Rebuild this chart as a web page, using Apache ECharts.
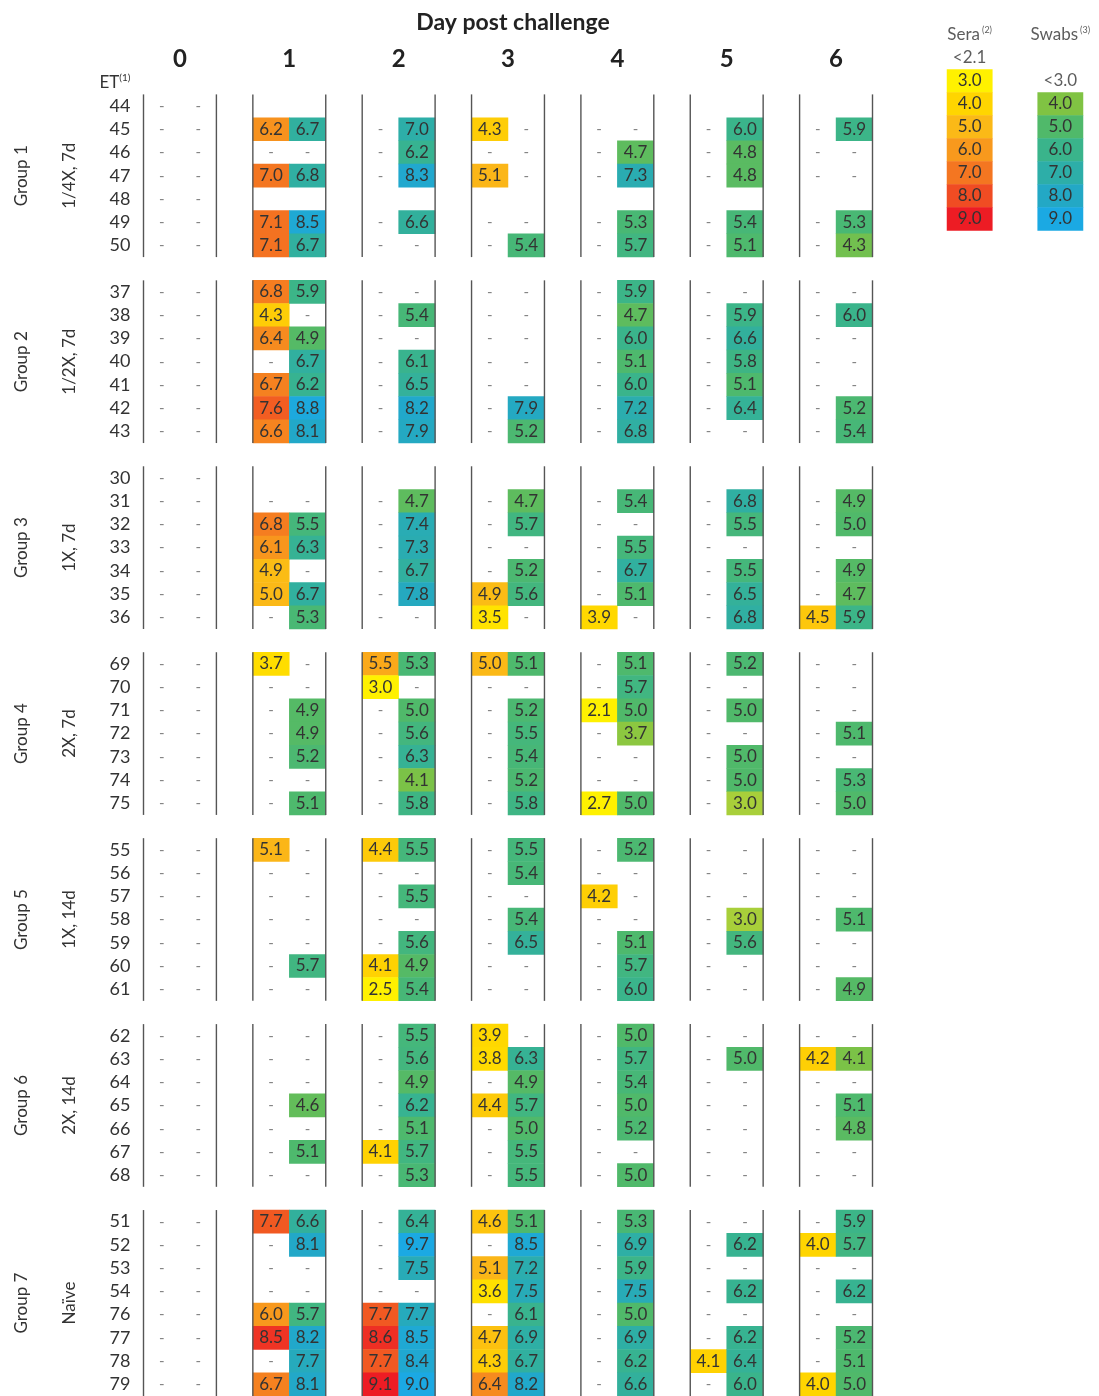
<!DOCTYPE html>
<html><head><meta charset="utf-8">
<script src="https://cdn.jsdelivr.net/npm/echarts@6/dist/echarts.min.js"></script>
<style>html,body{margin:0;padding:0;background:#fff}#c{width:1099px;height:1396px}</style>
</head><body><div id="c"></div>
<script>
// ---------- DATA ----------
const days = ['0', '1', '2', '3', '4', '5', '6'];
const groupNames = ['Group 1', 'Group 2', 'Group 3', 'Group 4', 'Group 5', 'Group 6', 'Group 7'];
const groupDoses = ['1/4X, 7d', '1/2X, 7d', '1X, 7d', '2X, 7d', '1X, 14d', '2X, 14d', 'Naïve'];

const group1Ids = ['44', '45', '46', '47', '48', '49', '50'];
const group1Sera = [
  ['-', '', '', '', '', '', ''],
  ['-', 6.2, '-', 4.3, '-', '-', '-'],
  ['-', '-', '-', '-', '-', '-', '-'],
  ['-', 7.0, '-', 5.1, '-', '-', '-'],
  ['-', '', '', '', '', '', ''],
  ['-', 7.1, '-', '-', '-', '-', '-'],
  ['-', 7.1, '-', '-', '-', '-', '-']
];
const group1Swab = [
  ['-', '', '', '', '', '', ''],
  ['-', 6.7, 7.0, '-', '-', 6.0, 5.9],
  ['-', '-', 6.2, '-', 4.7, 4.8, '-'],
  ['-', 6.8, 8.3, '-', 7.3, 4.8, '-'],
  ['-', '', '', '', '', '', ''],
  ['-', 8.5, 6.6, '-', 5.3, 5.4, 5.3],
  ['-', 6.7, '-', 5.4, 5.7, 5.1, 4.3]
];

const group2Ids = ['37', '38', '39', '40', '41', '42', '43'];
const group2Sera = [
  ['-', 6.8, '-', '-', '-', '-', '-'],
  ['-', 4.3, '-', '-', '-', '-', '-'],
  ['-', 6.4, '-', '-', '-', '-', '-'],
  ['-', '-', '-', '-', '-', '-', '-'],
  ['-', 6.7, '-', '-', '-', '-', '-'],
  ['-', 7.6, '-', '-', '-', '-', '-'],
  ['-', 6.6, '-', '-', '-', '-', '-']
];
const group2Swab = [
  ['-', 5.9, '-', '-', 5.9, '-', '-'],
  ['-', '-', 5.4, '-', 4.7, 5.9, 6.0],
  ['-', 4.9, '-', '-', 6.0, 6.6, '-'],
  ['-', 6.7, 6.1, '-', 5.1, 5.8, '-'],
  ['-', 6.2, 6.5, '-', 6.0, 5.1, '-'],
  ['-', 8.8, 8.2, 7.9, 7.2, 6.4, 5.2],
  ['-', 8.1, 7.9, 5.2, 6.8, '-', 5.4]
];

const group3Ids = ['30', '31', '32', '33', '34', '35', '36'];
const group3Sera = [
  ['-', '', '', '', '', '', ''],
  ['-', '-', '-', '-', '-', '-', '-'],
  ['-', 6.8, '-', '-', '-', '-', '-'],
  ['-', 6.1, '-', '-', '-', '-', '-'],
  ['-', 4.9, '-', '-', '-', '-', '-'],
  ['-', 5.0, '-', 4.9, '-', '-', '-'],
  ['-', '-', '-', 3.5, 3.9, '-', 4.5]
];
const group3Swab = [
  ['-', '', '', '', '', '', ''],
  ['-', '-', 4.7, 4.7, 5.4, 6.8, 4.9],
  ['-', 5.5, 7.4, 5.7, '-', 5.5, 5.0],
  ['-', 6.3, 7.3, '-', 5.5, '-', '-'],
  ['-', '-', 6.7, 5.2, 6.7, 5.5, 4.9],
  ['-', 6.7, 7.8, 5.6, 5.1, 6.5, 4.7],
  ['-', 5.3, '-', '-', '-', 6.8, 5.9]
];

const group4Ids = ['69', '70', '71', '72', '73', '74', '75'];
const group4Sera = [
  ['-', 3.7, 5.5, 5.0, '-', '-', '-'],
  ['-', '-', 3.0, '-', '-', '-', '-'],
  ['-', '-', '-', '-', 2.1, '-', '-'],
  ['-', '-', '-', '-', '-', '-', '-'],
  ['-', '-', '-', '-', '-', '-', '-'],
  ['-', '-', '-', '-', '-', '-', '-'],
  ['-', '-', '-', '-', 2.7, '-', '-']
];
const group4Swab = [
  ['-', '-', 5.3, 5.1, 5.1, 5.2, '-'],
  ['-', '-', '-', '-', 5.7, '-', '-'],
  ['-', 4.9, 5.0, 5.2, 5.0, 5.0, '-'],
  ['-', 4.9, 5.6, 5.5, 3.7, '-', 5.1],
  ['-', 5.2, 6.3, 5.4, '-', 5.0, '-'],
  ['-', '-', 4.1, 5.2, '-', 5.0, 5.3],
  ['-', 5.1, 5.8, 5.8, 5.0, 3.0, 5.0]
];

const group5Ids = ['55', '56', '57', '58', '59', '60', '61'];
const group5Sera = [
  ['-', 5.1, 4.4, '-', '-', '-', '-'],
  ['-', '-', '-', '-', '-', '-', '-'],
  ['-', '-', '-', '-', 4.2, '-', '-'],
  ['-', '-', '-', '-', '-', '-', '-'],
  ['-', '-', '-', '-', '-', '-', '-'],
  ['-', '-', 4.1, '-', '-', '-', '-'],
  ['-', '-', 2.5, '-', '-', '-', '-']
];
const group5Swab = [
  ['-', '-', 5.5, 5.5, 5.2, '-', '-'],
  ['-', '-', '-', 5.4, '-', '-', '-'],
  ['-', '-', 5.5, '-', '-', '-', '-'],
  ['-', '-', '-', 5.4, '-', 3.0, 5.1],
  ['-', '-', 5.6, 6.5, 5.1, 5.6, '-'],
  ['-', 5.7, 4.9, '-', 5.7, '-', '-'],
  ['-', '-', 5.4, '-', 6.0, '-', 4.9]
];

const group6Ids = ['62', '63', '64', '65', '66', '67', '68'];
const group6Sera = [
  ['-', '-', '-', 3.9, '-', '-', '-'],
  ['-', '-', '-', 3.8, '-', '-', 4.2],
  ['-', '-', '-', '-', '-', '-', '-'],
  ['-', '-', '-', 4.4, '-', '-', '-'],
  ['-', '-', '-', '-', '-', '-', '-'],
  ['-', '-', 4.1, '-', '-', '-', '-'],
  ['-', '-', '-', '-', '-', '-', '-']
];
const group6Swab = [
  ['-', '-', 5.5, '-', 5.0, '-', '-'],
  ['-', '-', 5.6, 6.3, 5.7, 5.0, 4.1],
  ['-', '-', 4.9, 4.9, 5.4, '-', '-'],
  ['-', 4.6, 6.2, 5.7, 5.0, '-', 5.1],
  ['-', '-', 5.1, 5.0, 5.2, '-', 4.8],
  ['-', 5.1, 5.7, 5.5, '-', '-', '-'],
  ['-', '-', 5.3, 5.5, 5.0, '-', '-']
];

const group7Ids = ['51', '52', '53', '54', '76', '77', '78', '79'];
const group7Sera = [
  ['-', 7.7, '-', 4.6, '-', '-', '-'],
  ['-', '-', '-', '-', '-', '-', 4.0],
  ['-', '-', '-', 5.1, '-', '-', '-'],
  ['-', '-', '-', 3.6, '-', '-', '-'],
  ['-', 6.0, 7.7, '-', '-', '-', '-'],
  ['-', 8.5, 8.6, 4.7, '-', '-', '-'],
  ['-', '-', 7.7, 4.3, '-', 4.1, '-'],
  ['-', 6.7, 9.1, 6.4, '-', '-', 4.0]
];
const group7Swab = [
  ['-', 6.6, 6.4, 5.1, 5.3, '-', 5.9],
  ['-', 8.1, 9.7, 8.5, 6.9, 6.2, 5.7],
  ['-', '-', 7.5, 7.2, 5.9, '-', '-'],
  ['-', '-', '-', 7.5, 7.5, 6.2, 6.2],
  ['-', 5.7, 7.7, 6.1, 5.0, '-', '-'],
  ['-', 8.2, 8.5, 6.9, 6.9, 6.2, 5.2],
  ['-', 7.7, 8.4, 6.7, 6.2, 6.4, 5.1],
  ['-', 8.1, 9.0, 8.2, 6.6, 6.0, 5.0]
];

const seraLegendValues = [3, 4, 5, 6, 7, 8, 9];
const swabLegendValues = [4, 5, 6, 7, 8, 9];
const legendTexts = ['{t|Sera}{s|(2)}', '<2.1', '{t|Swabs}{s|(3)}', '<3.0'];

const seraColors = ['#FFF100', '#FFD500', '#FBB917', '#F8991D', '#F47621', '#F04C23', '#ED1C24'];
const swabColors = ['#A8CF3A', '#80C343', '#50B96A', '#3AB48B', '#2DAEA8', '#23A8C5', '#1BA9E3'];

// ---------- BUILD ----------
const groups = [
  [group1Ids, group1Sera, group1Swab],
  [group2Ids, group2Sera, group2Swab],
  [group3Ids, group3Sera, group3Swab],
  [group4Ids, group4Sera, group4Swab],
  [group5Ids, group5Sera, group5Swab],
  [group6Ids, group6Sera, group6Swab],
  [group7Ids, group7Sera, group7Swab]
];

const xCats = [];
days.forEach((d, i) => { xCats.push(d + 's', d + 'w'); if (i < days.length - 1) xCats.push(d + 'g'); });

const yLabels = ['', 'ET'];
const seraData = [], swabData = [], dashData = [], groupSpans = [];
groups.forEach((g, gi) => {
  if (gi > 0) yLabels.push('');
  const start = yLabels.length;
  g[0].forEach((id, r) => {
    const y = yLabels.length;
    yLabels.push(id);
    for (let d = 0; d < days.length; d++) {
      const sv = g[1][r][d], wv = g[2][r][d];
      if (typeof sv === 'number') seraData.push([d * 3, y, sv]);
      else if (sv === '-') dashData.push([d * 3, y]);
      if (typeof wv === 'number') swabData.push([d * 3 + 1, y, wv]);
      else if (wv === '-') dashData.push([d * 3 + 1, y]);
    }
  });
  groupSpans.push({ start: start, end: yLabels.length - 1 });
});

const FONT = 'Lato';
const CELL_W = 36.45, ROW_H = 23.27;
const GRID_LEFT = 143.5, GRID_TOP = 47.9;
const gridW = CELL_W * xCats.length, gridH = ROW_H * yLabels.length;

const numLabel = {
  show: true, fontFamily: FONT, fontSize: 17, color: '#333',
  formatter: p => p.value[2].toFixed(1)
};

const chart = echarts.init(document.getElementById('c'));
chart.setOption({
  animation: false,
  backgroundColor: '#fff',
  title: {
    text: 'Day post challenge', left: GRID_LEFT + gridW / 2, top: 6, textAlign: 'center',
    textStyle: { fontFamily: FONT, fontSize: 23, fontWeight: 'bold', color: '#222' }
  },
  grid: [
    { left: GRID_LEFT, top: GRID_TOP, width: gridW, height: gridH },
    { left: 947, top: 23.5, width: 136, height: 207 }
  ],
  xAxis: [
    { type: 'category', data: xCats, gridIndex: 0, show: false },
    { type: 'category', data: ['sera', 'gap', 'swab'], gridIndex: 1, show: false }
  ],
  yAxis: [
    {
      type: 'category', data: yLabels, gridIndex: 0, inverse: true,
      axisLine: { show: false }, axisTick: { show: false }, splitLine: { show: false },
      axisLabel: {
        interval: 0, margin: 13, fontFamily: FONT, fontSize: 18, color: '#333',
        formatter: (v, i) => (i === 1 ? '{a|ET}{s|(1)}' : v),
        rich: {
          a: { fontFamily: FONT, fontSize: 17, color: '#333' },
          s: { fontFamily: FONT, fontSize: 10, color: '#333', padding: [0, 0, 9, 0] }
        }
      }
    },
    {
      type: 'category', data: ['h', 'l', '3', '4', '5', '6', '7', '8', '9'], gridIndex: 1,
      inverse: true, show: false
    }
  ],
  visualMap: [
    { type: 'continuous', show: false, min: 3, max: 9, seriesIndex: [0, 4], inRange: { color: seraColors } },
    { type: 'continuous', show: false, min: 3, max: 9, seriesIndex: [1, 5], inRange: { color: swabColors } }
  ],
  series: [
    { type: 'heatmap', name: 'Sera', data: seraData, label: numLabel, silent: true, emphasis: { disabled: true } },
    { type: 'heatmap', name: 'Swabs', data: swabData, label: numLabel, silent: true, emphasis: { disabled: true } },
    {
      type: 'scatter', name: 'dash', data: dashData, symbol: 'circle', symbolSize: 1, silent: true,
      itemStyle: { color: 'rgba(0,0,0,0)' },
      label: { show: true, position: 'inside', formatter: '-', fontFamily: FONT, fontSize: 15, color: '#666' }
    },
    {
      type: 'custom', name: 'frame', silent: true, clip: false, z: 5,
      data: groupSpans.map(s => [0, s.start]),
      renderItem: (params, api) => {
        const s = groupSpans[params.dataIndex];
        const size = api.size([1, 1]);
        const top = api.coord([0, s.start])[1] - size[1] / 2;
        const bottom = api.coord([0, s.end])[1] + size[1] / 2;
        const left0 = api.coord([0, s.start])[0] - size[0] / 2;
        const children = [];
        for (let d = 0; d < days.length; d++) {
          const l = api.coord([d * 3, s.start])[0] - size[0] / 2;
          const r = api.coord([d * 3 + 1, s.start])[0] + size[0] / 2;
          children.push({ type: 'line', shape: { x1: l, y1: top, x2: l, y2: bottom }, style: { stroke: '#555', lineWidth: 1.4 } });
          children.push({ type: 'line', shape: { x1: r, y1: top, x2: r, y2: bottom }, style: { stroke: '#555', lineWidth: 1.4 } });
        }
        const mid = (top + bottom) / 2;
        children.push({ type: 'text', x: left0 - 121.5, y: mid, rotation: Math.PI / 2,
          style: { text: groupNames[params.dataIndex], align: 'center', verticalAlign: 'middle', fontFamily: FONT, fontSize: 17, fill: '#333' } });
        children.push({ type: 'text', x: left0 - 73.5, y: mid, rotation: Math.PI / 2,
          style: { text: groupDoses[params.dataIndex], align: 'center', verticalAlign: 'middle', fontFamily: FONT, fontSize: 17, fill: '#333' } });
        return { type: 'group', children: children };
      }
    },
    {
      type: 'heatmap', name: 'SeraLegend', xAxisIndex: 1, yAxisIndex: 1, silent: true,
      data: seraLegendValues.map((v, i) => [0, i + 2, v]), label: numLabel, emphasis: { disabled: true }
    },
    {
      type: 'heatmap', name: 'SwabLegend', xAxisIndex: 1, yAxisIndex: 1, silent: true,
      data: swabLegendValues.map((v, i) => [2, i + 3, v]), label: numLabel, emphasis: { disabled: true }
    },
    {
      type: 'scatter', name: 'legendText', xAxisIndex: 1, yAxisIndex: 1, silent: true,
      data: [[0, 0], [0, 1], [2, 0], [2, 2]], symbolSize: 1, itemStyle: { color: 'rgba(0,0,0,0)' },
      label: {
        show: true, position: 'inside', fontFamily: FONT, fontSize: 17, color: '#333',
        formatter: p => legendTexts[p.dataIndex],
        rich: {
          t: { fontFamily: FONT, fontSize: 17, color: '#333' },
          s: { fontFamily: FONT, fontSize: 9, color: '#333', padding: [0, 0, 9, 2] }
        }
      }
    },
    {
      type: 'custom', name: 'dayHeaders', silent: true, clip: false,
      data: days.map((d, i) => [i * 3, 0]),
      renderItem: (params, api) => {
        const i = params.dataIndex;
        const a = api.coord([i * 3, 0]);
        const b = api.coord([i * 3 + 1, 0]);
        return { type: 'text', x: (a[0] + b[0]) / 2, y: a[1],
          style: { text: days[i], align: 'center', verticalAlign: 'middle', fontFamily: FONT, fontSize: 24, fontWeight: 'bold', fill: '#222' } };
      }
    }
  ]
});
</script></body></html>
